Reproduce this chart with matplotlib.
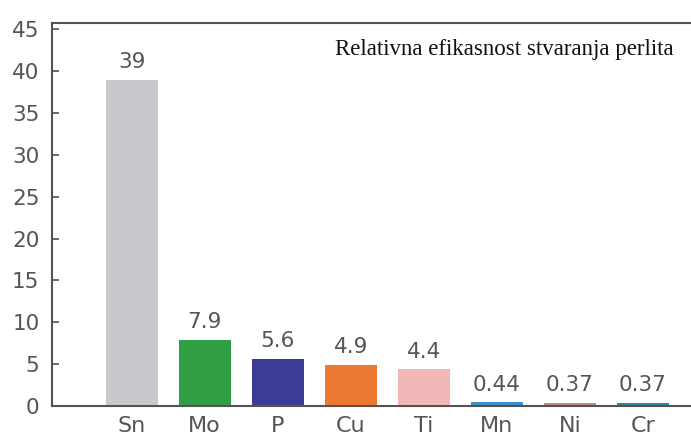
import matplotlib
matplotlib.use("Agg")
import matplotlib.pyplot as plt

elements = ["Sn", "Mo", "P", "Cu", "Ti", "Mn", "Ni", "Cr"]
values = [39, 7.9, 5.6, 4.9, 4.4, 0.44, 0.37, 0.37]
value_labels = ["39", "7.9", "5.6", "4.9", "4.4", "0.44", "0.37", "0.37"]
colors = ["#c9c9cd", "#2f9e44", "#3c3c98", "#ec7a32", "#f2b8b8", "#3a90d0", "#b8907c", "#2e8a9a"]
yticks = [0, 5, 10, 15, 20, 25, 30, 35, 40, 45]
title = "Relativna efikasnost stvaranja perlita"

fig = plt.figure(figsize=(6.91, 4.41), dpi=100)
ax = fig.add_axes([52/691, 1 - 406/441, 1 - 52/691, 383.3/441])

x = list(range(len(elements)))
ax.bar(x, values, width=0.71, color=colors, edgecolor="none")
gray = "#555555"
font = "DejaVu Sans"
for xi, v, lab in zip(x, values, value_labels):
    ax.annotate(lab, (xi, v), xytext=(0, 5.5), textcoords="offset points",
                ha="center", va="bottom", fontsize=15.5, color=gray,
                family=font)

ax.set_xlim(-1.09, 7.66)
ax.set_ylim(0, 45.8)
ax.set_yticks(yticks)
ax.set_xticks(x)
ax.set_xticklabels(elements)
for lab in ax.get_yticklabels():
    lab.set_family(font)
    lab.set_fontsize(15.5)
    lab.set_color(gray)
for lab in ax.get_xticklabels():
    lab.set_family(font)
    lab.set_fontsize(16)
    lab.set_color(gray)
ax.tick_params(axis="y", direction="in", length=5, width=1.2, color="#5a5050", pad=9)
ax.tick_params(axis="x", length=0, pad=7)

for s in ["left", "bottom", "top"]:
    ax.spines[s].set_color("#5a5050")
    ax.spines[s].set_linewidth(1.5)
ax.spines["right"].set_visible(False)

ax.text(0.973, 0.93, title, transform=ax.transAxes, ha="right", va="center",
        fontsize=16.5, family="Liberation Serif", color="#111111")

fig.savefig("out.png", dpi=100)
